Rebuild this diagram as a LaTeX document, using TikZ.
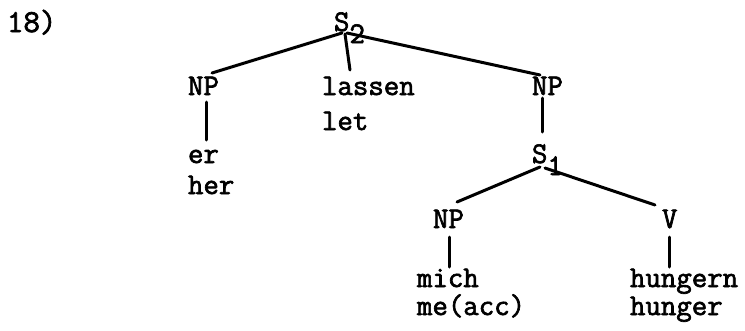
\documentclass[tikz,border=0pt]{standalone}
\usepackage{fontspec}
\newfontfamily\tw[FakeBold=2.2]{Latin Modern Mono}
\begin{document}
\begin{tikzpicture}[x=1pt,y=-1pt,
  lbl/.style={inner sep=0pt, outer sep=0pt, anchor=base west, font=\tw\fontsize{30}{30}\selectfont},
  two/.style={lbl, align=left, font=\tw\fontsize{30}{#1}\selectfont},
  br/.style={line width=3pt, line cap=round}]
\useasboundingbox (0,0) rectangle (745,330);
% labels (two-line nodes are placed by the baseline of their last line)
\node[lbl, font=\tw\fontsize{32}{32}\selectfont] (num) at (7,32) {18)};
\node[lbl] (s2) at (334,31) {S\raisebox{-12pt}{2}};
\node[lbl] (npL) at (188,95) {NP};
\node[two=35] (lassen) at (322,130) {lassen\\let};
\node[lbl] (npR) at (532,95) {NP};
\node[two=31] (er) at (188,194) {er\\her};
\node[lbl] (s1) at (532,163) {S\raisebox{-12pt}{1}};
\node[lbl] (npM) at (433,228) {NP};
\node[lbl] (v) at (662,228) {V};
\node[two=28] (mich) at (417,315) {mich\\me(acc)};
\node[two=28] (hungern) at (630,315) {hungern\\hunger};
% branches
\draw[br] ([shift={(8,2)}]s2.base west) -- ([shift={(24,-22)}]npL.base west);
\draw[br] ([shift={(11,3)}]s2.base west) -- ([shift={(28,-60)}]lassen.base west);
\draw[br] ([shift={(13,2)}]s2.base west) -- ([shift={(8,-20)}]npR.base west);
\draw[br] ([shift={(10,3)}]npR.base west) -- ([shift={(10,-31)}]s1.base west);
\draw[br] ([shift={(18,7)}]npL.base west) -- ([shift={(18,-54)}]er.base west);
\draw[br] ([shift={(8,4)}]s1.base west) -- ([shift={(24,-26)}]npM.base west);
\draw[br] ([shift={(13,5)}]s1.base west) -- ([shift={(-7,-23)}]v.base west);
\draw[br] ([shift={(16,9)}]npM.base west) -- ([shift={(32,-48)}]mich.base west);
\draw[br] ([shift={(7,9)}]v.base west) -- ([shift={(39,-48)}]hungern.base west);
\end{tikzpicture}
\end{document}
